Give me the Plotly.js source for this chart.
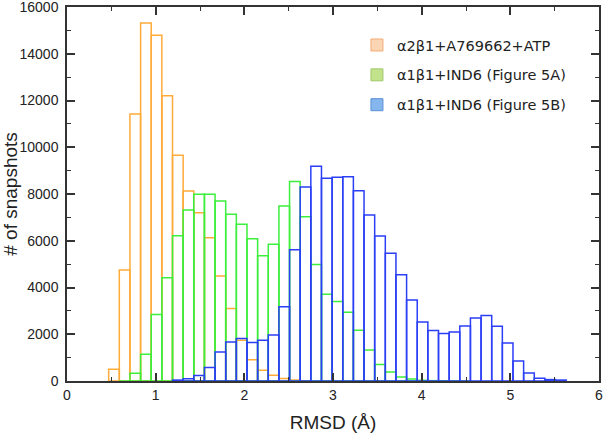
<!DOCTYPE html>
<html>
<head>
<meta charset="utf-8">
<script src="https://cdn.plot.ly/plotly-3.0.1.min.js"></script>
<style>
  html, body { margin: 0; padding: 0; background: #fff; }
  #chart { width: 605px; height: 441px; }
</style>
</head>
<body>
<div id="chart"></div>
<script>
// RMSD histogram bins (Å), bin width 0.12
const binCenters = [0.53, 0.65, 0.77, 0.89, 1.01, 1.13, 1.25, 1.37, 1.49, 1.61,
  1.73, 1.85, 1.97, 2.09, 2.21, 2.33, 2.45, 2.57, 2.69, 2.81,
  2.93, 3.05, 3.17, 3.29, 3.41, 3.53, 3.65, 3.77, 3.89, 4.01,
  4.13, 4.25, 4.37, 4.49, 4.61, 4.73, 4.85, 4.97, 5.09, 5.21,
  5.33, 5.45, 5.57];
const binWidth = 0.12;

const seriesNames = ['α2β1+A769662+ATP', 'α1β1+IND6 (Figure 5A)', 'α1β1+IND6 (Figure 5B)'];

// snapshot counts per bin
const countsA769662 = [500, 4745, 11420, 15318, 14787, 12202, 9661, 8131, 7200, 6129,
  4487, 3103, 1744, 910, 460, 244, 103, 40, 10, null,
  null, null, null, null, null, null, null, null, null, null,
  null, null, null, null, null, null, null, null, null, null,
  null, null, null];
const countsIND6A = [null, 0, 330, 1144, 2846, 4415, 6215, 7316, 7989, 7989,
  7702, 7132, 6703, 6090, 5360, 5846, 7488, 8530, 7029, 4989,
  3716, 3403, 2944, 2173, 1330, 703, 380, 171, 85, 30,
  15, 10, 5, 0, null, null, null, null, null, null,
  null, null, null];
const countsIND6B = [null, null, null, null, null, null, 40, 100, 230, 574,
  1243, 1672, 1817, 1646, 1744, 1972, 3172, 5615, 8302, 9189,
  8675, 8718, 8743, 8143, 7102, 6202, 5460, 4543, 3465, 2520,
  2165, 2032, 2100, 2357, 2700, 2803, 2344, 1629, 857, 343,
  115, 60, 40];

// axis ticks
const xTicks = [0, 1, 2, 3, 4, 5, 6];
const yTicks = [0, 2000, 4000, 6000, 8000, 10000, 12000, 14000, 16000];

const lineColors = ['#ffab3a', '#3cef3c', '#2b3ff6'];
const swatchFill = ['#fcd6b4', '#c2e28c', '#86b6ee'];
const swatchLine = ['#f2ab76', '#a2c86e', '#5a8fd6'];

function histTrace(counts, i) {
  return {
    type: 'bar',
    x: binCenters,
    y: counts,
    width: binWidth,
    name: seriesNames[i],
    showlegend: false,
    marker: {
      color: 'rgba(0,0,0,0)',
      line: { color: lineColors[i], width: 1.5 }
    },
    hoverinfo: 'x+y'
  };
}

// legend-only entries with the pastel swatches
function legendTrace(i) {
  return {
    type: 'bar',
    x: [null],
    y: [null],
    name: seriesNames[i],
    legendgroup: 'g' + i,
    marker: { color: swatchFill[i], line: { color: swatchLine[i], width: 1 } }
  };
}

const traces = [
  histTrace(countsA769662, 0),
  histTrace(countsIND6A, 1),
  histTrace(countsIND6B, 2),
  legendTrace(0), legendTrace(1), legendTrace(2)
];

const axisFont = { family: 'Liberation Sans, Arial, sans-serif', size: 14, color: '#222' };
const titleFont = { family: 'Liberation Sans, Arial, sans-serif', size: 19, color: '#222' };

function frameAxis(extra) {
  return {
    tickmode: 'array',
    ticks: 'inside',
    ticklen: 8,
    tickwidth: 1.6,
    tickcolor: '#333',
    showline: true,
    linecolor: '#333',
    linewidth: 1.5,
    mirror: 'ticks',
    showgrid: false,
    zeroline: false,
    tickfont: axisFont,
    ticklabeloverflow: 'allow',
    ...extra
  };
}

const layout = {
  width: 605,
  height: 441,
  margin: { l: 67, r: 6, t: 7, b: 60 },
  paper_bgcolor: '#fff',
  plot_bgcolor: '#fff',
  barmode: 'overlay',
  font: axisFont,
  xaxis: frameAxis({
    range: [0, 6],
    tickvals: xTicks,
    ticktext: xTicks.map(String),
    minor: { dtick: 0.5, tick0: 0, ticks: 'inside', ticklen: 4, tickwidth: 1.3, tickcolor: '#333' },
    title: { text: 'RMSD (Å)', font: titleFont, standoff: 14 }
  }),
  yaxis: frameAxis({
    range: [0, 16000],
    tickvals: yTicks,
    ticktext: yTicks.map(String),
    minor: { dtick: 1000, tick0: 0, ticks: 'inside', ticklen: 4, tickwidth: 1.3, tickcolor: '#333' },
    ticklabelstandoff: 4,
    title: { text: '# of snapshots', font: titleFont, standoff: 0 }
  }),
  legend: {
    x: 0.545,
    y: 0.941,
    xanchor: 'left',
    yanchor: 'top',
    bgcolor: 'rgba(0,0,0,0)',
    borderwidth: 0,
    traceorder: 'grouped',
    tracegroupgap: 8,
    font: { family: 'DejaVu Sans, sans-serif', size: 14.5, color: '#222' }
  }
};

Plotly.newPlot('chart', traces, layout, { displayModeBar: false, responsive: false });
</script>
</body>
</html>
